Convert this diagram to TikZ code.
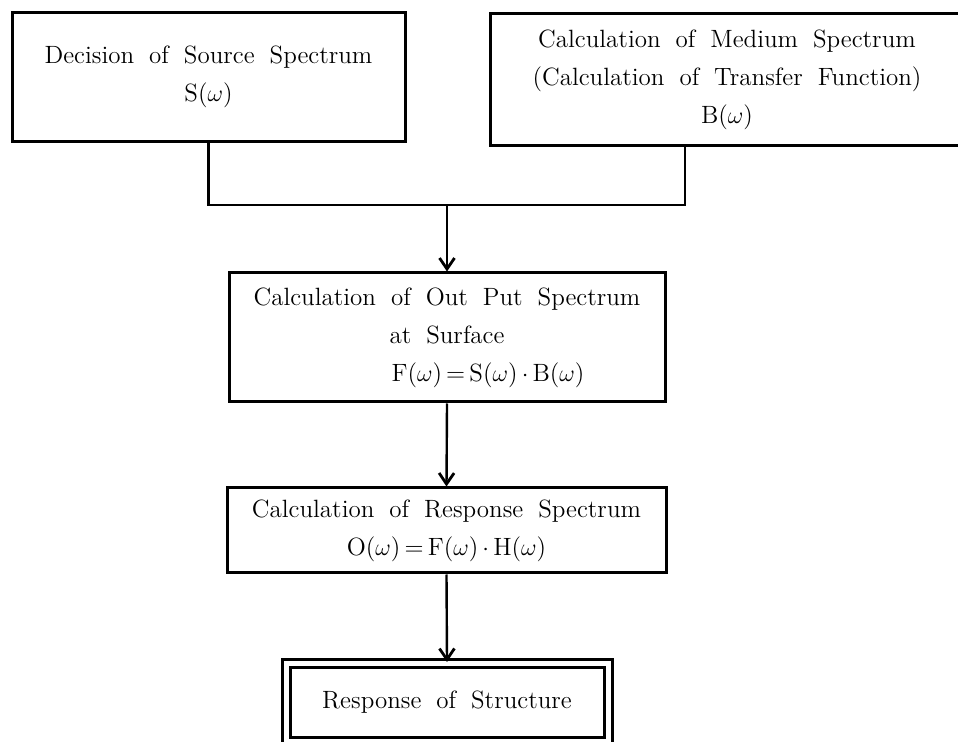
\documentclass[tikz,border=0pt]{standalone}
\usepackage{amsmath}
\usepackage{tikz}
\usetikzlibrary{arrows.meta,shapes}
\def\widesp{\spaceskip=7.5pt plus 1pt minus 1pt\relax}
\tikzstyle{blk}=[rectangle,draw=black,line width=1.5pt,align=center,
                font=\fontsize{12.5}{19}\selectfont\widesp,inner sep=0pt]
\tikzstyle{flow}=[-{Straight Barb[length=5.5pt,width=7.5pt,line width=1.4pt]},draw=black,line width=1.2pt]
\tikzstyle{link}=[draw=black,line width=1.2pt]
\def\wo{($\omega$)}

\begin{document}
\begin{tikzpicture}[x=0.5pt,y=-0.5pt]
    \useasboundingbox (0,0) rectangle (958,742);
    \tikzstyle{final}=[blk, double=white, double distance=2.5pt]

    % Draw the two top blocks
    \node[blk, minimum width=196.5pt, minimum height=64.5pt] (source) at (208.5,77)
        {Decision of Source Spectrum\\ S\wo};
    \node[blk, minimum width=237pt, minimum height=66pt] (medium) at (727,80)
        {Calculation of Medium Spectrum\\ (Calculation of Transfer Function)\\ B\wo};

    % Draw the output spectrum block
    \node[blk, minimum width=218pt, minimum height=64.5pt] (output) at (447,337.5)
        {Calculation of Out Put Spectrum\\ at Surface\\
         \hspace*{41pt}F\wo\,=\,S\wo\,$\cdot$\,B\wo};

    % Draw the response spectrum block
    \node[blk, minimum width=219.5pt, minimum height=42.5pt] (response) at (446.5,530.5)
        {Calculation of Response Spectrum\\ O\wo\,=\,F\wo\,$\cdot$\,H\wo};

    % Draw the last block (double frame)
    \node[final, minimum width=161pt, minimum height=39pt] (structure) at (447,702.5)
        {Response of Structure};

    %connect the top blocks
    \coordinate (merge) at (output.north |- 0,205);
    \coordinate (bjoin) at (685,205);
    \draw[link] (source.south) |- (bjoin) -- (bjoin |- medium.south);
    \draw[flow] (merge) -- (output.north);

    %connect the blocks below
    \draw[flow] (output.south) -- (response.north);
    \draw[flow] (response.south) -- (structure.north);

\end{tikzpicture}
\end{document}
